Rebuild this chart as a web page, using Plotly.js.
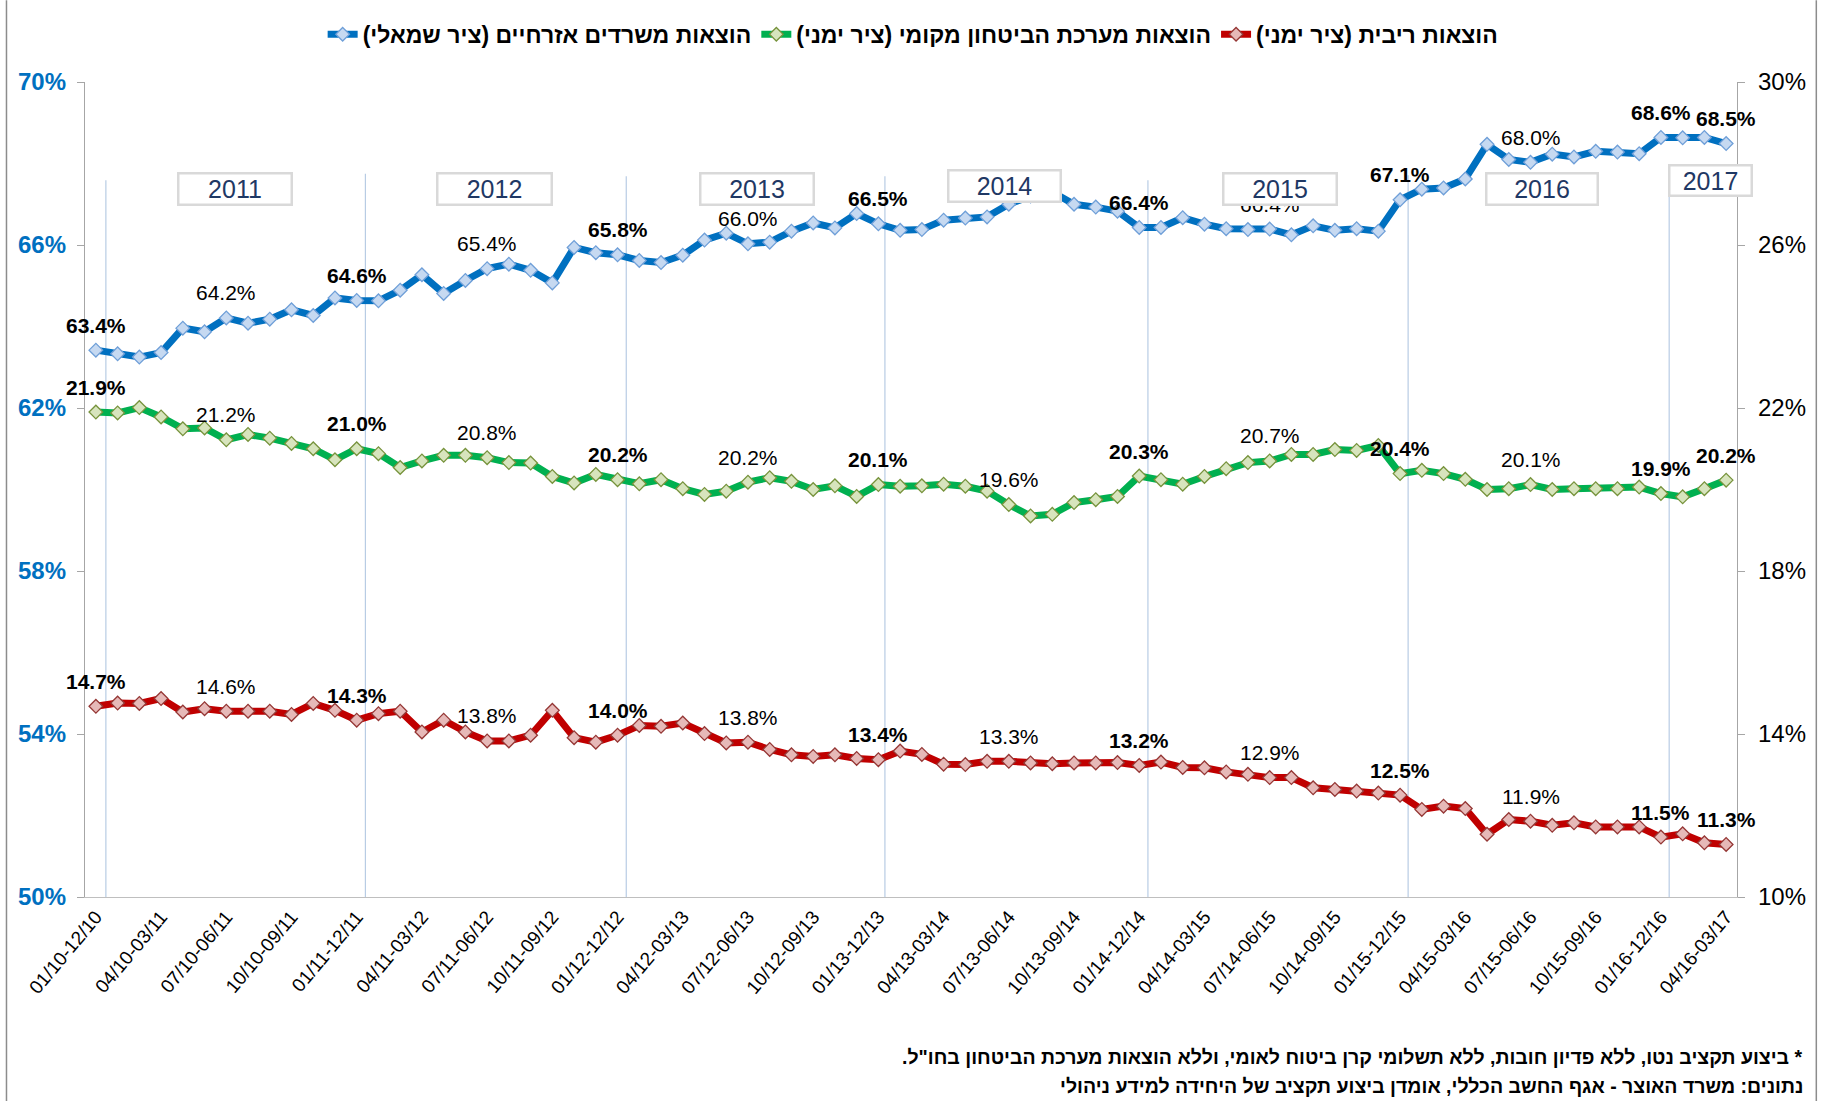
<!DOCTYPE html>
<html><head><meta charset="utf-8">
<script src="https://cdn.plot.ly/plotly-3.0.1.min.js"></script>
<style>html,body{margin:0;padding:0;background:#fff;}#chart{width:1823px;height:1101px;}</style>
</head><body><div id="chart"></div>
<script>
// ---- data ----
const tickLabels = ['01/10-12/10','04/10-03/11','07/10-06/11','10/10-09/11','01/11-12/11','04/11-03/12','07/11-06/12','10/11-09/12','01/12-12/12','04/12-03/13','07/12-06/13','10/12-09/13','01/13-12/13','04/13-03/14','07/13-06/14','10/13-09/14','01/14-12/14','04/14-03/15','07/14-06/15','10/14-09/15','01/15-12/15','04/15-03/16','07/15-06/16','10/15-09/16','01/16-12/16','04/16-03/17'];

const leftTicks = [50, 54, 58, 62, 66, 70];
const rightTicks = [10, 14, 18, 22, 26, 30];

// civilian ministries spending (left axis, %)
const civilian = [63.42,63.33,63.25,63.36,63.96,63.87,64.21,64.08,64.18,64.41,
  64.27,64.70,64.64,64.63,64.89,65.27,64.81,65.13,65.42,65.53,
  65.38,65.07,65.94,65.81,65.76,65.62,65.57,65.75,66.12,66.29,
  66.03,66.07,66.34,66.54,66.42,66.77,66.52,66.36,66.38,66.61,
  66.66,66.69,67.00,67.20,67.30,67.00,66.93,66.83,66.43,66.43,
  66.67,66.51,66.40,66.38,66.39,66.25,66.47,66.36,66.40,66.34,
  67.11,67.37,67.40,67.62,68.47,68.10,68.03,68.23,68.16,68.30,
  68.28,68.24,68.64,68.63,68.64,68.49];

// local defense spending (right axis, %)
const defense = [21.90,21.88,22.01,21.78,21.49,21.51,21.22,21.35,21.26,21.13,
  21.00,20.73,21.00,20.88,20.54,20.70,20.84,20.84,20.78,20.66,
  20.65,20.32,20.16,20.37,20.24,20.14,20.24,20.02,19.88,19.96,
  20.18,20.29,20.20,20.00,20.09,19.83,20.12,20.08,20.09,20.13,
  20.08,19.96,19.63,19.35,19.39,19.68,19.75,19.83,20.33,20.24,
  20.13,20.32,20.51,20.66,20.70,20.86,20.86,20.98,20.96,21.08,
  20.39,20.47,20.39,20.25,20.00,20.02,20.12,20.00,20.02,20.02,
  20.02,20.06,19.90,19.82,20.02,20.23];

// interest spending (right axis, %)
const interest = [14.68,14.76,14.75,14.87,14.54,14.62,14.56,14.56,14.56,14.48,
  14.75,14.58,14.34,14.50,14.56,14.05,14.34,14.05,13.83,13.83,
  13.97,14.58,13.91,13.80,13.97,14.21,14.19,14.27,14.01,13.78,
  13.80,13.62,13.49,13.45,13.49,13.40,13.37,13.58,13.50,13.26,
  13.25,13.33,13.33,13.29,13.27,13.29,13.29,13.30,13.23,13.31,
  13.18,13.17,13.07,13.01,12.93,12.93,12.68,12.64,12.60,12.55,
  12.50,12.15,12.23,12.17,11.54,11.90,11.86,11.76,11.82,11.72,
  11.72,11.72,11.47,11.55,11.33,11.29];

const boldLabelIdx = [0,12,24,36,48,60,72,75];
const plainLabelIdx = [6,18,30,42,54,66];
const yearNames = ['2011','2012','2013','2014','2015','2016','2017'];

const RLM = '\u200F';
const nameCivilian = 'הוצאות משרדים אזרחיים (ציר שמאלי)';
const nameDefense = 'הוצאות מערכת הביטחון מקומי (ציר ימני)';
const nameInterest = 'הוצאות ריבית (ציר ימני)';
const note1 = '* ביצוע תקציב נטו, ללא פדיון חובות, ללא תשלומי קרן ביטוח לאומי, וללא הוצאות מערכת הביטחון בחו"ל.';
const note2 = 'נתונים: משרד האוצר - אגף החשב הכללי, אומדן ביצוע תקציב של היחידה למידע ניהולי';

// ---- layout geometry (pixels) ----
const W = 1823, H = 1101;
const L = 85, R = 1736.7, T = 81.7, B = 896.7;
const px = x => (x - L) / (R - L);
const py = y => (B - y) / (B - T);
const FONT = 'Liberation Sans, Arial, DejaVu Sans, sans-serif';

const xIdx = civilian.map((_, i) => i);

function mkTrace(vals, name, lineColor, fill, edge, axis) {
  return {
    x: xIdx, y: vals, yaxis: axis, type: 'scatter', mode: 'lines+markers',
    name: '<b>' + name + RLM + '</b>',
    line: {color: lineColor, width: 7},
    marker: {symbol: 'diamond', size: 10.5, color: fill, line: {color: edge, width: 1.3}},
    hoverinfo: 'skip'
  };
}

const traces = [
  mkTrace(civilian, nameCivilian, '#0070c0', '#c6d9f1', '#6f9fd8', 'y'),
  mkTrace(defense, nameDefense, '#00b050', '#d7e4bd', '#77933c', 'y2'),
  mkTrace(interest, nameInterest, '#c00000', '#e6b9b8', '#953735', 'y2')
];

const annotations = [];
function addLabels(vals, yref) {
  const add = (i, bold) => {
    const t = vals[i].toFixed(1) + '%';
    annotations.push({x: i, y: vals[i], xref: 'x', yref: yref, text: bold ? '<b>' + t + '</b>' : t,
      showarrow: false, yshift: 25, xanchor: 'center', yanchor: 'middle',
      font: {family: FONT, size: 21, color: '#000'}});
  };
  plainLabelIdx.forEach(i => add(i, false));
  boldLabelIdx.forEach(i => add(i, true));
}
addLabels(civilian, 'y');
addLabels(defense, 'y2');
addLabels(interest, 'y2');

// year boxes [centerX, centerY, width, height] in px
const yearBoxes = [[235,189,114,32],[494.5,189,115,32],[757,188.4,114,32],[1004.5,185.8,113,32],[1280,189,114,32],[1541.8,189,112,32],[1710.5,180.5,83,31]];
yearBoxes.forEach((b, k) => {
  annotations.push({xref: 'paper', yref: 'paper', x: px(b[0]), y: py(b[1]), xanchor: 'center', yanchor: 'middle',
    text: yearNames[k], showarrow: false, bgcolor: '#ffffff', bordercolor: '#d9d9d9', borderwidth: 2.5, borderpad: 0,
    width: b[2] - 3, height: b[3] - 3, font: {family: FONT, size: 25, color: '#1f3864'}});
});

annotations.push({xref: 'paper', yref: 'paper', x: px(1805), y: py(1057), xanchor: 'right', yanchor: 'middle',
  text: '<b>' + RLM + note1 + RLM + '</b>', showarrow: false, font: {family: FONT, size: 19.5, color: '#000'}});
annotations.push({xref: 'paper', yref: 'paper', x: px(1805), y: py(1086), xanchor: 'right', yanchor: 'middle',
  text: '<b>' + RLM + note2 + RLM + '</b>', showarrow: false, font: {family: FONT, size: 19.5, color: '#000'}});

// vertical year separators [x index, top value on left axis]
const separators = [[0.46,67.59],[12.40,67.75],[24.40,67.69],[36.30,67.69],[48.40,67.59],[60.37,67.71],[72.38,67.27]];
const shapes = separators.map(s => ({type: 'line', xref: 'x', yref: 'y', x0: s[0], x1: s[0], y0: 50, y1: s[1],
  line: {color: '#b8cce4', width: 1.2}, layer: 'below'}));
// outer frame sides
shapes.push({type: 'line', xref: 'paper', yref: 'paper', x0: px(6.5), x1: px(6.5), y0: py(0), y1: py(1101), line: {color: '#8c8c8c', width: 1.5}});
shapes.push({type: 'line', xref: 'paper', yref: 'paper', x0: px(1816), x1: px(1816), y0: py(0), y1: py(1101), line: {color: '#8c8c8c', width: 1.5}});

const layout = {
  width: W, height: H,
  margin: {l: L, r: W - R, t: T, b: H - B, pad: 0},
  paper_bgcolor: '#ffffff', plot_bgcolor: '#ffffff',
  font: {family: FONT, color: '#000'},
  showlegend: true,
  legend: {orientation: 'h', x: px(913), xanchor: 'center', y: py(34), yanchor: 'middle',
    font: {family: FONT, size: 23, color: '#000'}, itemwidth: 30, traceorder: 'normal'},
  xaxis: {range: [-0.5, 75.5], tickmode: 'array', tickvals: tickLabels.map((_, k) => k * 3), ticktext: tickLabels,
    tickangle: -50, tickfont: {family: FONT, size: 19, color: '#000'}, showline: true, linecolor: '#bfbfbf', linewidth: 1.2,
    ticks: '', showgrid: false, zeroline: false, fixedrange: true},
  yaxis: {range: [50, 70], tickmode: 'array', tickvals: leftTicks, ticktext: leftTicks.map(v => '<b>' + v + '%</b>'),
    tickfont: {family: FONT, size: 24, color: '#0070c0'}, showline: true, linecolor: '#a6a6a6', linewidth: 1.2,
    ticks: 'outside', ticklen: 7, tickcolor: '#a6a6a6', showgrid: false, zeroline: false, ticklabelstandoff: 6},
  yaxis2: {range: [10, 30], overlaying: 'y', side: 'right', tickmode: 'array', tickvals: rightTicks, ticktext: rightTicks.map(v => v + '%'),
    tickfont: {family: FONT, size: 24, color: '#000'}, showline: true, linecolor: '#a6a6a6', linewidth: 1.2,
    ticks: 'outside', ticklen: 7, tickcolor: '#a6a6a6', showgrid: false, zeroline: false, ticklabelstandoff: 8},
  annotations: annotations,
  shapes: shapes
};

Plotly.newPlot('chart', traces, layout, {displayModeBar: false, staticPlot: true});
</script></body></html>
